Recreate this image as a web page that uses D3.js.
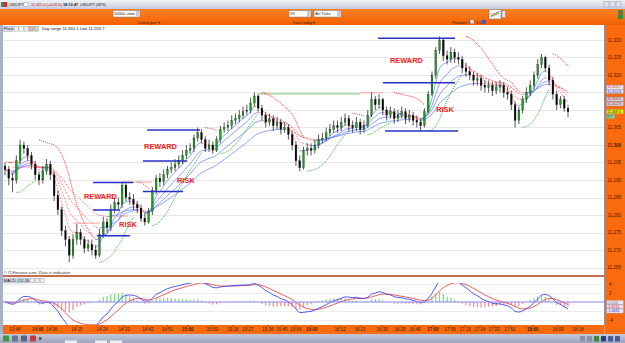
<!DOCTYPE html>
<html><head><meta charset="utf-8">
<script src="https://cdn.jsdelivr.net/npm/d3@7"></script>
<style>
html,body{margin:0;padding:0;background:#fff;overflow:hidden}
svg{display:block;font-family:"Liberation Sans",Arial,sans-serif}
</style></head><body>
<svg id="c" width="625" height="343"></svg>
<script>
// ---------------- DATA ----------------
const firstOpen = 11294;
const closes = [
11293,11290.5,11290,11295.5,11300,11299,11297,11294.5,11291.5,11290,
11292.5,11294.5,11291.5,11285.5,11281.5,11275.5,11273,11268.5,11273,11275,
11273,11270.5,11271.5,11270,11268.5,11274.5,11278,11276.5,11281.5,11283.5,
11283,11288.5,11285,11284.5,11283,11282,11279,11278,11281,11287,
11290.5,11289.5,11291.5,11293,11293.5,11294.5,11295.5,11297,11298.5,11299,
11302,11303.5,11301.5,11299,11300,11298.5,11301.5,11304.5,11305,11305.5,
11307,11307.5,11308.5,11309.5,11310,11312,11314,11310.5,11308.5,11306.5,
11307.5,11305.5,11306.5,11304.5,11305,11303,11300,11295.5,11293.5,11298.5,
11299,11298.5,11300,11301.5,11302,11303.5,11304.5,11305.5,11305,11306.5,
11307.5,11305.5,11305,11306.5,11304.5,11305.5,11308.5,11313,11311.5,11313,
11310,11308.5,11309.5,11307.5,11308.5,11309.5,11307.5,11308.5,11307,11306.5,
11305.5,11309.5,11314.5,11320,11327,11330,11325.5,11324.5,11326.5,11325,
11324.5,11322,11321,11320,11318.5,11319,11317,11316.5,11317,11315.5,
11316.5,11317,11315,11314.5,11311.5,11307,11310,11313,11315,11317,
11320,11323,11325,11322,11318.5,11314.5,11311.5,11313,11310.5,11309.5];
const highs = [
11295,11294,11292,11297,11301.5,11301,11300,11298,11295.5,11292.5,
11294,11296,11295.5,11292.5,11287,11282.5,11277,11274,11274.5,11277.5,
11276,11274,11273,11273,11271.5,11276,11279.5,11279,11283,11285,
11285,11289.5,11289,11286.5,11286,11284,11283,11280.5,11282,11288,
11291.5,11292,11293,11294,11295,11296,11297,11298.5,11300,11300.5,
11303,11305,11304.5,11302.5,11301.5,11301,11302.5,11305.5,11306.5,11307,
11308.5,11309,11310,11311,11311.5,11313.5,11315,11314.5,11311.5,11309.5,
11309,11308.5,11308,11307.5,11306.5,11306,11304,11301,11297,11299.5,
11300.5,11300.5,11301.5,11303,11303.5,11305,11306,11307,11307,11308,
11309,11308.5,11307,11308,11307.5,11307,11310,11315,11314,11314.5,
11313.5,11311,11311,11310.5,11310,11311,11310.5,11310,11309.5,11308.5,
11307.5,11310.5,11315.5,11321,11328,11331,11330.5,11327,11328,11327.5,
11326.5,11325.5,11323.5,11322.5,11321,11320.5,11320,11318.5,11318.5,11318,
11318,11318.5,11318,11316.5,11315.5,11312.5,11311,11314,11316.5,11318.5,
11321,11324.5,11326,11325.5,11323,11319.5,11315.5,11314,11314,11311.5];
const lows = [
11291.5,11288.5,11286.5,11289,11294.5,11297.5,11295.5,11293,11290,11288.5,
11289,11291.5,11290,11284,11280,11274,11271,11266.5,11267.5,11271.5,
11271.5,11269,11269.5,11268.5,11267.5,11268,11273.5,11275,11275.5,11280.5,
11281.5,11282,11284,11283,11281.5,11280.5,11278,11277,11277.5,11280,
11286,11288,11288.5,11290.5,11292,11292.5,11293.5,11294.5,11296,11297.5,
11298,11301,11300.5,11298,11298,11297.5,11298,11300.5,11303.5,11304,
11304.5,11306,11306.5,11307.5,11308.5,11309,11311,11309.5,11307,11305,
11305.5,11304,11304.5,11303,11303.5,11301.5,11298.5,11294,11292.5,11293,
11297,11297,11297.5,11299,11300.5,11301,11302.5,11303.5,11303.5,11304,
11305.5,11304,11303.5,11304,11303,11303.5,11305,11308,11310,11310.5,
11308.5,11307,11307.5,11306,11306.5,11307.5,11306,11306.5,11305.5,11305,
11304,11305,11309,11314,11319,11326,11324,11323,11323.5,11323.5,
11323,11320.5,11319.5,11318.5,11317,11317,11315.5,11315,11315,11314,
11314.5,11315,11313.5,11313,11310,11305,11306,11309,11312,11314,
11316,11319,11322,11321,11317,11313,11310,11310.5,11309.5,11308];

const timeLabels = ["13:48","14:00","14:06","14:15","14:24","14:33","14:42","14:51","15:00","15:09","15:18","15:27","15:36","15:45","15:54","16:00","16:12","16:21","16:30","16:39","16:45","17:00","17:06","17:15","17:24","17:33","17:51","18:00","18:09","18:18"];
const timeIdx = [2.6,8.7,12.4,19,25.7,31.5,37.8,43,48.4,54.8,60.3,64.3,69.6,73.3,77,81.2,88.7,94,99.8,104.5,108.5,113.3,117.8,121.8,125.7,129.4,133.6,139.7,146.4,151.6];

const priceTicks = [11265,11270,11275,11280,11285,11290,11295,11300,11305,11310,11315,11320,11325,11330];
// labels hidden behind the value boxes (11,310 / 11,315) are left empty
const priceTickLabels = ["11,265","11,270","11,275","11,280","11,285","11,290","11,295","11,300","11,305","","","11,320","11,325","11,330"];
const macdTicks = [4,2,-2,-4];
const macdTickLabels = ["4","2","","-4"];

// risk / reward levels (price, from bar, to bar)
const levelPrice = [11289.3,11281.4,11274.1,11304.3,11295.4,11286.7,11330.5,11317.8,11304];
const levelFrom  = [23.3,23.3,24.3,37.6,36.5,36.5,98.7,100,100.6];
const levelTo    = [33.9,30.4,33.1,51.6,48.2,47.1,119.1,119.1,119.9];
// swing reference lines
const refPrice = [11295.1,11293.7,11277.7,11279.7,11289.4,11314.6,11314.9];
const refFrom  = [0,2,18,28,31,67,94];
const refTo    = [4,12,25,32.5,39,94,100];
const refKind  = ["res","res","res","res","res","sup","res"];
// annotation texts
const annoText  = ["REWARD","RISK","REWARD","RISK","REWARD","RISK"];
const annoIdx   = [20.9,30.2,36.8,45.5,101.9,114.1];
const annoPrice = [11285.4,11277.4,11299.7,11290,11324.3,11310.3];

const maPeriods = [5,9,15,24];
const macdParams = [8,17,6];
const sideBoxText = ["11,315.7","11,314.8","11,313.5","11,312.9","11,309.5","P/T"];
const macdBoxText = ["0.0000","-0.8215","-1.0632"];

// ---------------- LAYOUT ----------------
const W=625,H=343;
const PX0=3, PX1=604.5, PY0=25, PY1=275;
const MY0=277, MY1=325;
const N = closes.length;
const svg = d3.select('#c');
const defs = svg.append('defs');

function grad(id, c1, c2){
  const g = defs.append('linearGradient').attr('id',id).attr('x1',0).attr('y1',0).attr('x2',0).attr('y2',1);
  g.append('stop').attr('offset','0%').attr('stop-color',c1);
  g.append('stop').attr('offset','100%').attr('stop-color',c2);
}
grad('gTitle','#f1f3f8','#c5cbdc');
grad('gOrange','#ff8225','#f06000');
grad('gBottom','#c3c9d9','#9ca5bd');

const x = d3.scaleLinear().domain([0, N-1]).range([5, 568]);
const y = d3.scaleLinear().domain([11265, 11330]).range([267.5, 40]);
const ym = d3.scaleLinear().domain([-4, 4]).range([320, 284]);

// backgrounds
svg.append('rect').attr('width',W).attr('height',H).attr('fill','#fff');
svg.append('rect').attr('x',0).attr('y',0).attr('width',W).attr('height',9).attr('fill','url(#gTitle)');
svg.append('rect').attr('x',0).attr('y',9).attr('width',W).attr('height',16).attr('fill','url(#gOrange)');
svg.append('rect').attr('x',0).attr('y',25).attr('width',3).attr('height',309).attr('fill','#a9b1c6');
svg.append('rect').attr('x',PX1).attr('y',25).attr('width',W-PX1).attr('height',309).attr('fill','#fa6a0e');
svg.append('rect').attr('x',3).attr('y',MY1).attr('width',PX1-3).attr('height',9).attr('fill','#fa6a0e');
svg.append('rect').attr('x',0).attr('y',334).attr('width',W).attr('height',9).attr('fill','url(#gBottom)');

// title bar
const tb = svg.append('g').attr('font-size',3.8);
tb.append('rect').attr('x',1).attr('y',2).attr('width',3).attr('height',5).attr('fill','#2a9a2a');
tb.append('rect').attr('x',4).attr('y',2).attr('width',3).attr('height',5).attr('fill','#d23');
tb.append('text').attr('x',9).attr('y',6.3).attr('fill','#222').text('USDJPY:');
tb.append('rect').attr('x',24).attr('y',2.5).attr('width',4).attr('height',4).attr('fill','#fff').attr('stroke','#888').attr('stroke-width',0.4);
tb.append('text').attr('x',31).attr('y',6.3).attr('fill','#c01010').text('11,325.0 (+0.05%)');
tb.append('text').attr('x',63).attr('y',6.3).attr('fill','#222').attr('font-weight','bold').text('18:13:47');
tb.append('text').attr('x',80).attr('y',6.3).attr('fill','#222').text('USDJPY (SPX)');
[604,610,616].forEach((bx)=>{
  tb.append('rect').attr('x',bx).attr('y',1.5).attr('width',5).attr('height',5.5).attr('fill','#dfe3ee').attr('stroke','#8c93a8').attr('stroke-width',0.4);
});

// orange toolbar
const ot = svg.append('g').attr('font-size',4);
function inputBox(x0,w,txt){
  ot.append('rect').attr('x',x0).attr('y',10.5).attr('width',w).attr('height',6.5).attr('fill','#fff').attr('stroke','#7a7a7a').attr('stroke-width',0.5);
  ot.append('rect').attr('x',x0+w-4).attr('y',11).attr('width',3.6).attr('height',5.5).attr('fill','#c9ccd6');
  ot.append('text').attr('x',x0+1.2).attr('y',15.4).attr('fill','#222').text(txt);
}
inputBox(113,27,'50000 units');
inputBox(289,22,'99');
inputBox(314,27,'Art Ticks');
ot.append('rect').attr('x',489).attr('y',9.5).attr('width',12).attr('height',9.5).attr('fill','#f4f4f4').attr('stroke','#777').attr('stroke-width',0.5);
ot.append('path').attr('d','M491,17 L494,13 L496,15 L499,11').attr('fill','none').attr('stroke','#d22').attr('stroke-width',0.7);
ot.append('path').attr('d','M491,15 L494,16 L497,12 L499,14').attr('fill','none').attr('stroke','#2a2').attr('stroke-width',0.7);
ot.append('rect').attr('x',502).attr('y',10.5).attr('width',3.5).attr('height',7).attr('fill','#e6e6e6').attr('stroke','#777').attr('stroke-width',0.4);
ot.append('rect').attr('x',618).attr('y',10).attr('width',5).attr('height',9).attr('fill','#3a8a3a');
ot.append('rect').attr('x',619).attr('y',11.5).attr('width',3).attr('height',3).attr('fill','#e33');
ot.append('text').attr('x',138).attr('y',23.5).attr('fill','#3a1a00').text('Latest pair  \u25BE');
ot.append('text').attr('x',293).attr('y',23.5).attr('fill','#3a1a00').text('Date today  \u25BE');
ot.append('text').attr('x',452).attr('y',23.5).attr('fill','#3a1a00').text('Position: 0');
ot.append('rect').attr('x',470).attr('y',19.8).attr('width',4).attr('height',4).attr('fill','#ddd').attr('stroke','#666').attr('stroke-width',0.3);
ot.append('text').attr('x',476).attr('y',23.5).attr('fill','#3a1a00').text('1.0');
ot.append('rect').attr('x',482).attr('y',19.8).attr('width',4).attr('height',4).attr('fill','#3a5ad0');

// plot area
const plot = svg.append('g');
defs.append('clipPath').attr('id','clipP').append('rect').attr('x',PX0).attr('y',PY0).attr('width',PX1-PX0).attr('height',PY1-PY0);
defs.append('clipPath').attr('id','clipM').append('rect').attr('x',PX0).attr('y',MY0+6).attr('width',PX1-PX0).attr('height',MY1-MY0-6);

// gridlines
plot.selectAll('.gl').data(priceTicks).enter().append('line')
  .attr('x1',PX0).attr('x2',PX1).attr('y1',d=>Math.round(y(d))+0.5).attr('y2',d=>Math.round(y(d))+0.5)
  .attr('stroke','#e2e2e2').attr('stroke-width',0.8);

const pg = plot.append('g').attr('clip-path','url(#clipP)');
const line = d3.line().x(d=>x(d[0])).y(d=>y(d[1]));

// reference lines
refPrice.forEach((p,k)=>{
  pg.append('line').attr('x1',x(refFrom[k])).attr('x2',x(refTo[k])).attr('y1',y(p)).attr('y2',y(p))
    .attr('stroke',refKind[k]==='sup'?'#4cb84c':'#ff8a8a').attr('stroke-width',0.8);
});

// moving averages coloured by slope
function ema(arr,n){const k=2/(n+1);const o=[arr[0]];for(let i=1;i<arr.length;i++)o.push(o[i-1]+k*(arr[i]-o[i-1]));return o;}
maPeriods.forEach(n=>{
  const e = ema(closes,n);
  const runs=[];let cur=null;
  for(let i=1;i<e.length;i++){
    const dir = e[i]>=e[i-1]?'up':'dn';
    if(!cur||cur.dir!==dir){cur={dir,pts:[[i-1,e[i-1]]]};runs.push(cur);}
    cur.pts.push([i,e[i]]);
  }
  runs.forEach(r=>{
    pg.append('path').attr('d',line.curve(d3.curveMonotoneX)(r.pts)).attr('fill','none')
      .attr('stroke',r.dir==='up'?'#4462ff':'#ff3b3b')
      .attr('stroke-width',0.7)
      .attr('stroke-opacity',0.85)
      .attr('stroke-dasharray',r.dir==='up'?null:'2,1.3');
  });
});
line.curve(d3.curveLinear);

// parabolic SAR
function psar(h,l,step,mx){
  const out=[];let up=true,af=step,ep=h[0],sar=l[0];
  out.push({v:sar,up});
  for(let i=1;i<h.length;i++){
    sar=sar+af*(ep-sar);
    if(up){
      sar=Math.min(sar,l[i-1],l[Math.max(0,i-2)]);
      if(l[i]<sar){up=false;sar=ep;ep=l[i];af=step;}
      else if(h[i]>ep){ep=h[i];af=Math.min(af+step,mx);}
    }else{
      sar=Math.max(sar,h[i-1],h[Math.max(0,i-2)]);
      if(h[i]>sar){up=true;sar=ep;ep=h[i];af=step;}
      else if(l[i]<ep){ep=l[i];af=Math.min(af+step,mx);}
    }
    out.push({v:sar,up});
  }
  return out;
}
const sar = psar(highs,lows,0.03,0.2);
{
  const runs=[];let cur=null;
  sar.forEach((s,i)=>{
    if(!cur||cur.up!==s.up){cur={up:s.up,pts:[]};runs.push(cur);}
    cur.pts.push([i,s.v]);
  });
  runs.forEach(r=>{
    const col = r.up?'#22b522':'#ff2a2a';
    if(r.pts.length>1){
      pg.append('path').attr('d',line(r.pts)).attr('fill','none').attr('stroke',col)
        .attr('stroke-width',1).attr('stroke-dasharray','1,1.1');
    } else {
      pg.append('circle').attr('cx',x(r.pts[0][0])).attr('cy',y(r.pts[0][1])).attr('r',0.6).attr('fill',col);
    }
  });
}

// candles
const opens = closes.map((c,i)=> i? closes[i-1] : firstOpen);
const cg = pg.append('g');
closes.forEach((c,i)=>{
  const o=opens[i];
  cg.append('line').attr('x1',x(i)).attr('x2',x(i)).attr('y1',y(highs[i])).attr('y2',y(lows[i]))
    .attr('stroke','#111').attr('stroke-width',0.7);
  const top = y(Math.max(o,c)), bot = y(Math.min(o,c));
  cg.append('rect').attr('x',x(i)-0.9).attr('width',1.8).attr('y',top).attr('height',Math.max(0.8,bot-top))
    .attr('fill',c>=o?'#1c9e1c':'#0a0a0a').attr('stroke','#111').attr('stroke-width',0.25);
});

// risk / reward levels
levelPrice.forEach((p,k)=>{
  pg.append('line').attr('x1',x(levelFrom[k])).attr('x2',x(levelTo[k])).attr('y1',y(p)).attr('y2',y(p))
    .attr('stroke','#2630c8').attr('stroke-width',1.5);
});
annoText.forEach((t,k)=>{
  pg.append('text').attr('x',x(annoIdx[k])).attr('y',y(annoPrice[k])).attr('dy','0.35em')
    .attr('font-size',7.4).attr('font-weight','bold').attr('fill','#ec2424').text(t);
});

// plot header row
const hr = svg.append('g').attr('font-size',4.2);
hr.append('rect').attr('x',3).attr('y',26.3).attr('width',10).attr('height',5).attr('fill','#d8dce6').attr('stroke','#8a90a0').attr('stroke-width',0.4);
hr.append('text').attr('x',4).attr('y',30.2).attr('fill','#111').text('Price');
[14,19,24,29,34].forEach((bx,k)=>{
  hr.append('rect').attr('x',bx).attr('y',26.5).attr('width',4.2).attr('height',4.6)
    .attr('fill',['#eef0f5','#fff','#eef0f5','#e8b0b0','#b8e0b8'][k]).attr('stroke','#777').attr('stroke-width',0.35);
});
hr.append('text').attr('x',42).attr('y',30.3).attr('fill','#111').text('Day range 11,330.1 Low 11,255.7');
svg.append('text').attr('x',3.5).attr('y',274).attr('font-size',4.2).attr('font-style','italic').attr('fill','#333')
  .text('\u00A9 IT-Finance.com, Data is indicative');

// separator and borders
svg.append('line').attr('x1',3).attr('x2',PX1).attr('y1',276).attr('y2',276).attr('stroke','#b23c12').attr('stroke-width',1.4);
svg.append('line').attr('x1',PX1).attr('x2',PX1).attr('y1',25).attr('y2',MY1).attr('stroke','#7d8494').attr('stroke-width',0.8);

// right price axis
const ax = svg.append('g').attr('font-size',4.5);
priceTicks.forEach((p,k)=>{
  if(!priceTickLabels[k]) return;
  ax.append('text').attr('x',607.5).attr('y',y(p)+1.6).attr('fill','#3a2200')
    .attr('font-weight',p===11300?'bold':null).text(priceTickLabels[k]);
});
// side value boxes
const boxY=[85,89.3,97,101.8,109.5,114.3];
const boxFill=['#e6e6f4','#e6e6f4','#cfcfdc','#cfcfdc','#f5f000','#8fdc8f'];
const boxCol=['#d01818','#2030d0','#c01818','#c01818','#111','#114411'];
sideBoxText.forEach((t,k)=>{
  ax.append('rect').attr('x',606.5).attr('y',boxY[k]).attr('width',k===5?8:17).attr('height',4.2)
    .attr('fill',boxFill[k]).attr('stroke','#8a8aa6').attr('stroke-width',0.35);
  ax.append('text').attr('x',607.3).attr('y',boxY[k]+3.3).attr('font-size',3.6).attr('fill',boxCol[k]).text(t);
});

// ---------------- MACD ----------------
const fast=ema(closes,macdParams[0]), slow=ema(closes,macdParams[1]);
const macd=fast.map((f,i)=>f-slow[i]);
const sig=ema(macd,macdParams[2]);
const hist=macd.map((m,i)=>m-sig[i]);
const mg = svg.append('g');
macdTicks.forEach(t=>{
  mg.append('line').attr('x1',PX0).attr('x2',PX1).attr('y1',Math.round(ym(t))+0.5).attr('y2',Math.round(ym(t))+0.5)
    .attr('stroke','#e4e4e4').attr('stroke-width',0.7);
});
const mc = mg.append('g').attr('clip-path','url(#clipM)');
hist.forEach((h,i)=>{
  mc.append('line').attr('x1',x(i)).attr('x2',x(i)).attr('y1',ym(0)).attr('y2',ym(h))
    .attr('stroke',h>=0?'#6ad06a':'#f07a7a').attr('stroke-width',1.3).attr('stroke-opacity',0.8);
});
mg.append('line').attr('x1',PX0).attr('x2',PX1).attr('y1',ym(0)).attr('y2',ym(0)).attr('stroke','#8a84f0').attr('stroke-width',1);
const mline = d3.line().x((d,i)=>x(i)).y(d=>ym(d)).curve(d3.curveMonotoneX);
mc.append('path').attr('d',mline(sig)).attr('fill','none').attr('stroke','#f04a4a').attr('stroke-width',0.9);
mc.append('path').attr('d',mline(macd)).attr('fill','none').attr('stroke','#3c44f0').attr('stroke-width',0.9);

// MACD header
const mh = svg.append('g').attr('font-size',4.2);
mh.append('rect').attr('x',3).attr('y',278).attr('width',26).attr('height',5).attr('fill','#d8dce6').attr('stroke','#8a90a0').attr('stroke-width',0.35);
mh.append('text').attr('x',3.8).attr('y',282).attr('fill','#111').text('MACD (12,26,9)');
[30,35,40].forEach(bx=>{
  mh.append('rect').attr('x',bx).attr('y',278.2).attr('width',4.2).attr('height',4.6).attr('fill','#eef0f5').attr('stroke','#777').attr('stroke-width',0.35);
});

// MACD right axis
macdTicks.forEach((t,k)=>{
  if(!macdTickLabels[k]) return;
  ax.append('text').attr('x',609).attr('y',ym(t)+1.6).attr('fill','#3a2200').text(macdTickLabels[k]);
});
const mbY=[300.3,304.6,308.9];
const mbCol=['#777','#d01818','#2030d0'];
macdBoxText.forEach((t,k)=>{
  ax.append('rect').attr('x',606.5).attr('y',mbY[k]).attr('width',17).attr('height',4.2)
    .attr('fill','#e8e8f4').attr('stroke','#8a8aa6').attr('stroke-width',0.35);
  ax.append('text').attr('x',607.3).attr('y',mbY[k]+3.3).attr('font-size',3.6).attr('fill',mbCol[k]).text(t);
});

// time axis
const ta = svg.append('g').attr('font-size',4.5);
timeLabels.forEach((t,k)=>{
  const xx = x(timeIdx[k]);
  ta.append('line').attr('x1',xx).attr('x2',xx).attr('y1',MY1).attr('y2',MY1+1.8).attr('stroke','#3a2200').attr('stroke-width',0.5);
  ta.append('text').attr('x',xx).attr('y',330.8).attr('text-anchor','middle').attr('fill','#3a2200')
    .attr('font-weight',t.endsWith(':00')?'bold':null).text(t);
});

// bottom toolbar
const bt = svg.append('g');
[3,12,21,30].forEach((bx,k)=>{
  bt.append('rect').attr('x',bx).attr('y',335.5).attr('width',6).attr('height',6).attr('fill',['#3a9a3a','#6a7490','#5a6480','#c03a3a'][k]).attr('rx',1);
});
bt.append('rect').attr('x',39).attr('y',337).attr('width',2.5).attr('height',3).attr('fill','#555');
[65,95,110].forEach(bx=>{
  bt.append('rect').attr('x',bx).attr('y',340.5).attr('width',12).attr('height',2.5).attr('fill','#eef0f6');
});
[580,587,594,601,608,615].forEach((bx,k)=>{
  bt.append('rect').attr('x',bx).attr('y',336).attr('width',5).attr('height',5.5)
    .attr('fill',['#8890a8','#8890a8','#3a8a3a','#2a3a8a','#4a5a9a','#4a5a9a'][k]).attr('rx',0.8);
});
</script>
</body></html>
